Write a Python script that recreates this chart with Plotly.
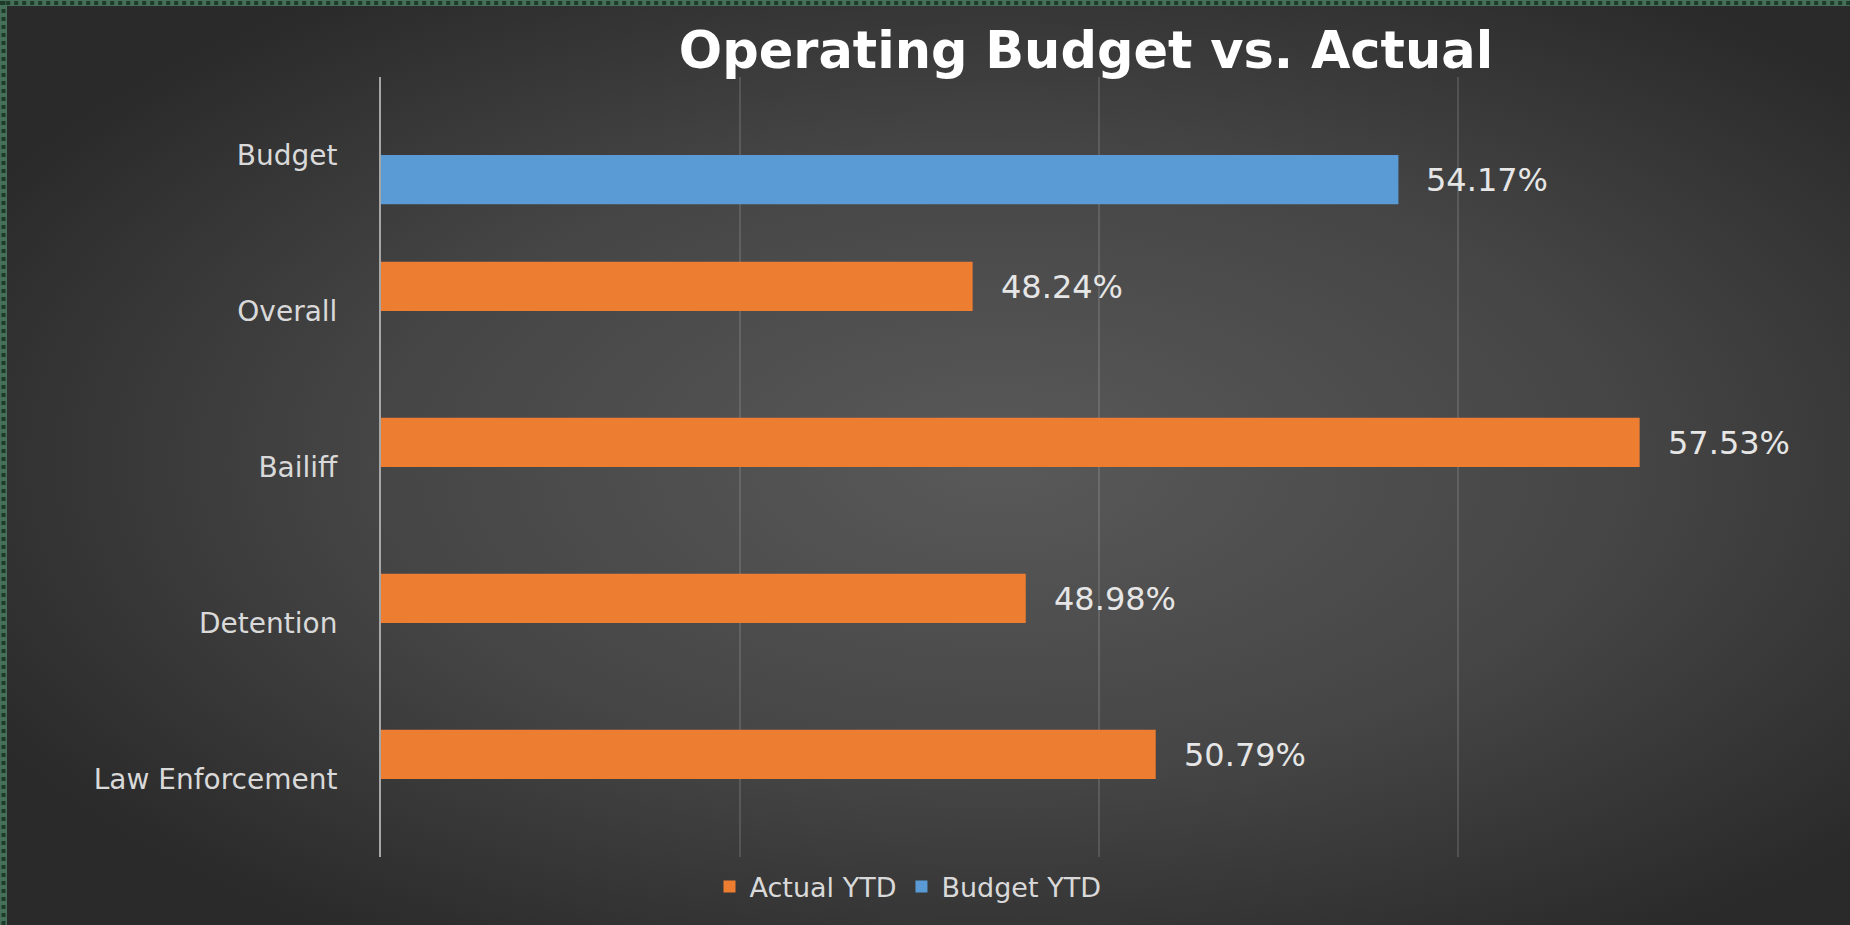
import plotly.graph_objects as go

# Categories listed bottom-to-top on the vertical axis
categories = ["Law Enforcement", "Detention", "Bailiff", "Overall", "Budget"]
actual_ytd = [50.79, 48.98, 57.53, 48.24, None]
budget_ytd = [None, None, None, None, 54.17]

ORANGE = "#ED7D31"
BLUE = "#5B9BD5"
LABEL = "#D9D9D9"
FONT = "DejaVu Sans"

W, H = 1850, 925
BAR_W = 0.315  # bar thickness in category units

fig = go.Figure()

fig.add_trace(go.Bar(
    name="Actual YTD", y=categories, x=actual_ytd, orientation="h",
    marker=dict(color=ORANGE, line=dict(width=0)),
    width=BAR_W, offset=0, legendrank=1, hoverinfo="x+y",
))
fig.add_trace(go.Bar(
    name="Budget YTD", y=categories, x=budget_ytd, orientation="h",
    marker=dict(color=BLUE, line=dict(width=0)),
    width=BAR_W, offset=-BAR_W, legendrank=2, hoverinfo="x+y",
))

# Value labels to the right of each bar
annotations = []
for series, shift in ((actual_ytd, 24.5), (budget_ytd, -24.5)):
    for cat, val in zip(categories, series):
        if val is None:
            continue
        annotations.append(dict(
            x=val, y=cat, xref="x", yref="y", text=f"{val:.2f}%",
            showarrow=False, xanchor="left", yanchor="middle",
            xshift=26, yshift=shift,
            font=dict(family=FONT, size=32, color="#E6E6E6"),
        ))

# Radial background shading
bg_svg = (
    "data:image/svg+xml;utf8,"
    "<svg xmlns='http://www.w3.org/2000/svg' width='1850' height='925' "
    "viewBox='0 0 100 100' preserveAspectRatio='none'>"
    "<defs><radialGradient id='g' cx='54%' cy='50%' r='62%'>"
    "<stop offset='0' stop-color='%23595959'/>"
    "<stop offset='0.55' stop-color='%23454545'/>"
    "<stop offset='1' stop-color='%232A2A2A'/>"
    "</radialGradient></defs>"
    "<rect x='0' y='0' width='100' height='100' fill='url(%23g)'/></svg>"
)

shapes = [
    # green dotted frame strips along the top and left edges
    dict(type="rect", xref="paper", yref="paper", x0=-0.3, x1=1.3,
         y0=1 + 71 / 780, y1=1 + 77 / 780, fillcolor="#47705A", line=dict(width=0)),
    dict(type="rect", xref="paper", yref="paper", x0=-381 / 1436, x1=-374 / 1436,
         y0=-0.2, y1=1.2, fillcolor="#47705A", line=dict(width=0)),
    dict(type="line", xref="paper", yref="paper", x0=-0.3, x1=1.3,
         y0=1 + 74 / 780, y1=1 + 74 / 780,
         line=dict(color="#1E3A28", width=4, dash="dot")),
    dict(type="line", xref="paper", yref="paper", x0=-377.5 / 1436, x1=-377.5 / 1436,
         y0=-0.2, y1=1.2, line=dict(color="#1E3A28", width=4, dash="dot")),
]

fig.update_layout(
    width=W, height=H,
    margin=dict(l=381, r=33, t=77, b=68),
    paper_bgcolor="#2B2B2B",
    plot_bgcolor="rgba(0,0,0,0)",
    barmode="overlay",
    showlegend=True,
    title=dict(
        text="<b>Operating Budget vs. Actual</b>",
        x=1086 / W, xanchor="center", y=1 - 50 / H, yanchor="middle",
        font=dict(family=FONT, size=51, color="#FFFFFF"),
    ),
    xaxis=dict(
        range=[40, 60], dtick=5, tick0=40,
        showgrid=True, gridcolor="rgba(255,255,255,0.13)", gridwidth=2,
        showticklabels=False, zeroline=False, showline=False, fixedrange=True,
    ),
    yaxis=dict(
        categoryorder="array", categoryarray=categories,
        showgrid=False, zeroline=False,
        showline=True, linecolor="#A6A6A6", linewidth=2,
        ticks="outside", ticklen=36, tickcolor="rgba(0,0,0,0)",
        tickfont=dict(family=FONT, size=28, color=LABEL),
        fixedrange=True,
    ),
    legend=dict(
        orientation="h", x=(908 - 381) / 1436, xanchor="center",
        y=-30 / 780, yanchor="middle",
        font=dict(family=FONT, size=27, color=LABEL),
        bgcolor="rgba(0,0,0,0)",
    ),
    annotations=annotations,
    shapes=shapes,
    images=[dict(source=bg_svg, xref="paper", yref="paper",
                 x=-381 / 1436, y=1 + 77 / 780, sizex=W / 1436, sizey=H / 780,
                 xanchor="left", yanchor="top", sizing="stretch", layer="below")],
)

fig.write_html("out.html")
